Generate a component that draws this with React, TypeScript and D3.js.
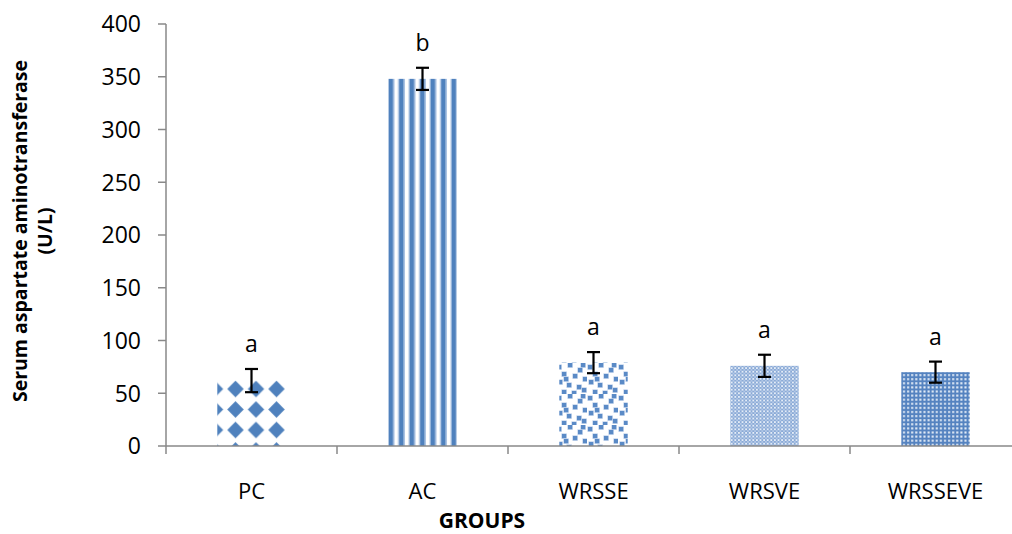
import React from "react";
import * as d3 from "d3";

// Serum AST by treatment group (U/L), mean ± error, with significance letters
const groups = ["PC", "AC", "WRSSE", "WRSVE", "WRSSEVE"];
const astMeans = [62, 348, 79, 76, 70];
const astErrors = [11, 10.5, 10, 10.5, 10];
const sigLetters = ["a", "b", "a", "a", "a"];
const yTicks = [0, 50, 100, 150, 200, 250, 300, 350, 400];
const fillIds = ["fillDiamond", "fillStripe", "fillConfetti", "fillCheck", "fillDots"];

const W = 1012;
const H = 534;
const left = 166;
const bottom = 446;
const top = 24;
const right = 1021;
const BLUE = "#4f81bd";
const AXIS = "#898989";
const FONT = "'Open Sans', 'DejaVu Sans', sans-serif";

// scattered squares for the confetti tile
const confetti: [number, number][] = [
  [1, 2], [12, 0], [22, 5], [6, 9], [17, 11], [27, 14], [2, 17],
  [11, 20], [21, 22], [6, 27], [16, 28], [26, 25], [8, 14], [25, 0],
];

export default function App() {
  const x = d3.scaleBand<string>().domain(groups).range([left, right]).paddingInner(0.6).paddingOuter(0.3);
  const y = d3.scaleLinear().domain([0, 400]).range([bottom, top]);
  const step = x.step();
  const boundaries = d3.range(groups.length + 1).map((i) => left + i * step);

  return (
    <svg
      width={W}
      height={H}
      style={{ position: "absolute", left: 0, top: 0, background: "#fff" }}
      fontFamily={FONT}
    >
      <defs>
        <filter id="soft" x="-5%" y="-5%" width="110%" height="110%">
          <feGaussianBlur stdDeviation="0.45" />
        </filter>
        <pattern id="fillDiamond" patternUnits="userSpaceOnUse" width="20.5" height="20.5" x="204.75" y="378.75">
          <rect width="20.5" height="20.5" fill="#fff" />
          <path d="M10.25,2 L18.5,10.25 L10.25,18.5 L2,10.25 Z" fill={BLUE} />
        </pattern>
        <pattern id="fillStripe" patternUnits="userSpaceOnUse" width="10.5" height="10" x="385">
          <rect width="10.5" height="10" fill="#fff" />
          <rect x="2.5" width="1.2" height="10" fill="#a9c1e2" />
          <rect x="3.7" width="4.6" height="10" fill={BLUE} />
          <rect x="8.3" width="1.2" height="10" fill="#a9c1e2" />
        </pattern>
        <pattern id="fillConfetti" patternUnits="userSpaceOnUse" width="31" height="31" x="556" y="363">
          <rect width="31" height="31" fill="#fff" />
          {confetti.map(([cx, cy], i) => (
            <g key={i}>
              <rect x={cx - 0.6} y={cy - 0.6} width={5.4} height={5.4} fill="#b9cde9" />
              <rect x={cx} y={cy} width={4.2} height={4.2} fill="#5a8ac6" />
            </g>
          ))}
        </pattern>
        <pattern id="fillCheck" patternUnits="userSpaceOnUse" width="3.6" height="3.6">
          <rect width="3.6" height="3.6" fill="#8aaad6" />
          <rect width="1.8" height="1.8" fill="#e4ecf7" />
          <rect x="1.8" y="1.8" width="1.8" height="1.8" fill="#b2c7e6" />
        </pattern>
        <pattern id="fillDots" patternUnits="userSpaceOnUse" width="4.1" height="4.1">
          <rect width="4.1" height="4.1" fill="#5583c0" />
          <rect x="1" y="1" width="2" height="2" fill="#e6eef8" />
        </pattern>
      </defs>

      {/* bars */}
      {groups.map((g, i) => (
        <rect
          key={g}
          x={x(g)}
          y={y(astMeans[i])}
          width={x.bandwidth()}
          height={bottom - y(astMeans[i])}
          fill={`url(#${fillIds[i]})`}
          filter="url(#soft)"
        />
      ))}

      {/* error bars */}
      {groups.map((g, i) => {
        const cx = (x(g) as number) + x.bandwidth() / 2;
        const hi = y(astMeans[i] + astErrors[i]);
        const lo = y(astMeans[i] - astErrors[i]);
        return (
          <g key={g} stroke="#000" strokeWidth={2.2}>
            <line x1={cx} x2={cx} y1={hi} y2={lo} />
            <line x1={cx - 6.5} x2={cx + 6.5} y1={hi} y2={hi} />
            <line x1={cx - 6.5} x2={cx + 6.5} y1={lo} y2={lo} />
          </g>
        );
      })}

      {/* significance letters */}
      {groups.map((g, i) => (
        <text
          key={g}
          x={(x(g) as number) + x.bandwidth() / 2}
          y={y(astMeans[i] + astErrors[i]) - 17}
          textAnchor="middle"
          fontSize={23}
          fill="#000"
        >
          {sigLetters[i]}
        </text>
      ))}

      {/* y axis */}
      <line x1={left} x2={left} y1={top} y2={bottom} stroke={AXIS} strokeWidth={1.5} />
      {yTicks.map((t) => (
        <g key={t}>
          <line x1={left - 8} x2={left} y1={y(t)} y2={y(t)} stroke={AXIS} strokeWidth={1.5} />
          <text x={141} y={y(t)} dy="0.36em" textAnchor="end" fontSize={23} fill="#000">
            {t}
          </text>
        </g>
      ))}

      {/* x axis */}
      <line x1={left} x2={right} y1={bottom} y2={bottom} stroke={AXIS} strokeWidth={1.5} />
      {boundaries.map((bx, i) => (
        <line key={i} x1={bx} x2={bx} y1={bottom} y2={bottom + 8} stroke={AXIS} strokeWidth={1.5} />
      ))}
      {groups.map((g) => (
        <text
          key={g}
          x={(x(g) as number) + x.bandwidth() / 2}
          y={491}
          dy="0.36em"
          textAnchor="middle"
          fontSize={22}
          fill="#000"
        >
          {g}
        </text>
      ))}

      {/* axis titles */}
      <text x={482} y={528} textAnchor="middle" fontSize={21} fontWeight="bold" fill="#000">
        GROUPS
      </text>
      <g transform="translate(20,231) rotate(-90)">
        <text x={0} y={0} dy="0.36em" textAnchor="middle" fontSize={19.5} fontWeight="bold" fill="#000">
          Serum aspartate aminotransferase
        </text>
        <text x={0} y={25} dy="0.36em" textAnchor="middle" fontSize={19.5} fontWeight="bold" fill="#000">
          (U/L)
        </text>
      </g>
    </svg>
  );
}
